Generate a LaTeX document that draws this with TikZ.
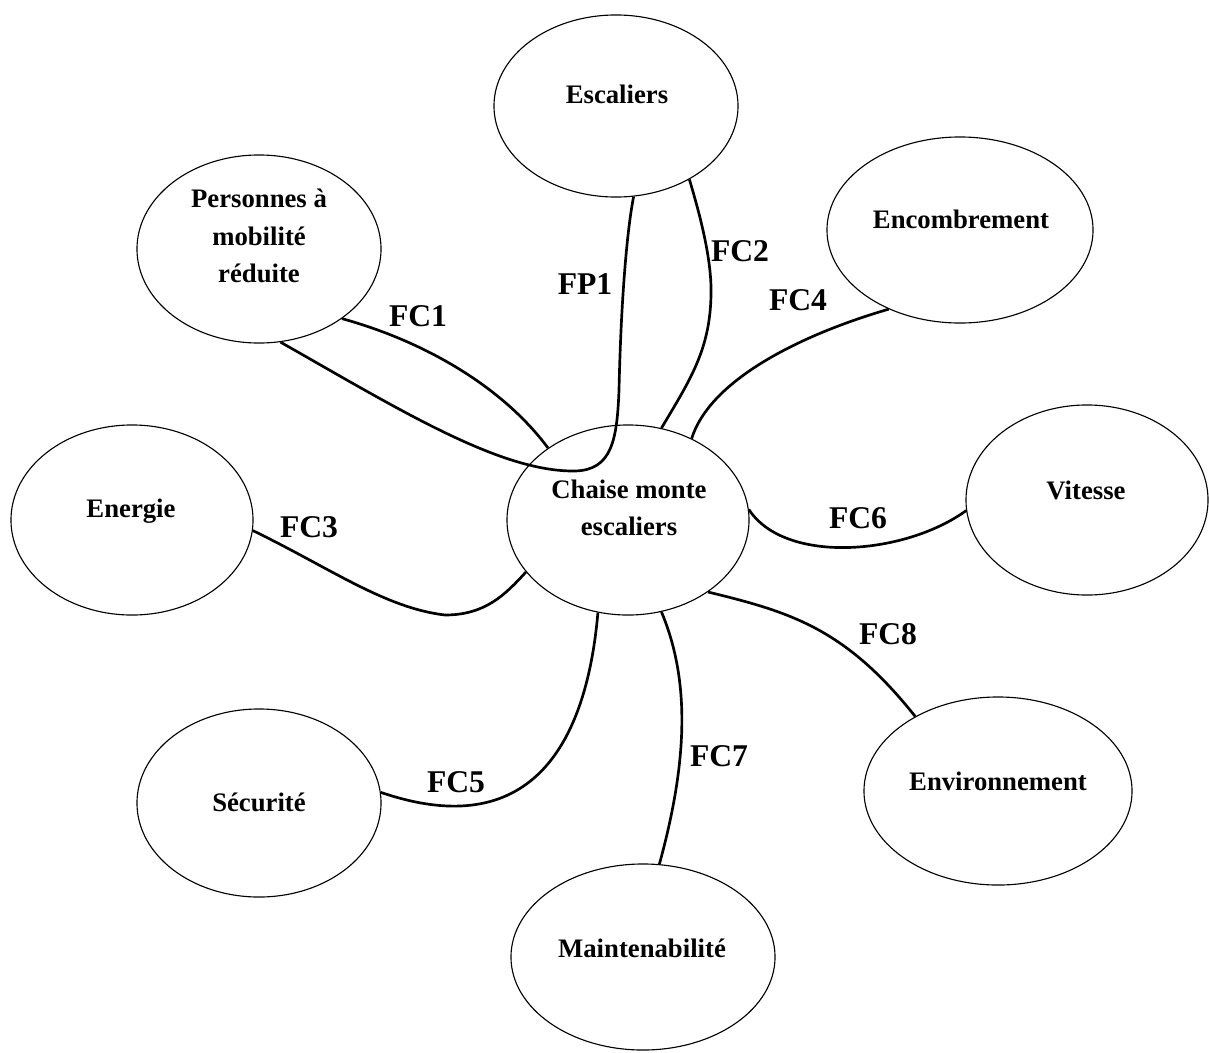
\documentclass[tikz,border=0pt]{standalone}
\usepackage{fontspec}
\setmainfont{Liberation Serif}
\usetikzlibrary{shapes.geometric}

\begin{document}
\begin{tikzpicture}[x=0.025cm,y=-0.025cm,
  bubble/.style={ellipse,draw,line width=0.8pt,inner sep=0pt},
  btext/.style={font=\fontsize{19}{26.5}\selectfont\bfseries,align=center,inner sep=0pt},
  link/.style={line width=1.9pt},
  tag/.style={font=\fontsize{22.5}{26}\selectfont\bfseries,inner sep=0pt}]

\useasboundingbox (0,0) rectangle (1209,1052);

% the bubbles
\node[bubble,minimum width=6.1cm,minimum height=4.55cm] (esc) at (616,106) {};
\node[bubble,minimum width=6.1cm,minimum height=4.7cm] (pers) at (259,249) {};
\node[bubble,minimum width=6.65cm,minimum height=4.65cm] (enc) at (960,230) {};
\node[bubble,minimum width=6.05cm,minimum height=4.75cm] (ene) at (132,520) {};
\node[bubble,minimum width=6.05cm,minimum height=4.75cm] (chaise) at (628,520) {};
\node[bubble,minimum width=6.05cm,minimum height=4.75cm] (vit) at (1087,500) {};
\node[bubble,minimum width=6.7cm,minimum height=4.7cm] (env) at (998,791) {};
\node[bubble,minimum width=6.1cm,minimum height=4.7cm] (sec) at (259,803) {};
\node[bubble,minimum width=6.6cm,minimum height=4.65cm] (main) at (643,957) {};

% bubble texts
\node[btext] (esc-t) at (617,94) {Escaliers};
\node[btext] (pers-t) at (259,236) {Personnes à\\mobilité\\réduite};
\node[btext] (enc-t) at (961,219) {Encombrement};
\node[btext] (ene-t) at (131,511) {Energie};
\node[btext] (chaise-t) at (629,508) {Chaise monte\\escaliers};
\node[btext] (vit-t) at (1086,490) {Vitesse};
\node[btext] (env-t) at (998,781) {Environnement};
\node[btext] (sec-t) at (259,802) {Sécurité};
\node[btext] (main-t) at (642,948) {Maintenabilité};

% functions
\draw[link] (pers.-77.5) .. controls (400,410) and (500,472) .. (575,471)
  .. controls (612,470) and (617,440) .. (619,390)
  .. controls (621,300) and (627,230) .. (esc.-79.4);
\draw[link] (pers.-40) .. controls (430,343) and (505,390) .. (chaise.138);
\draw[link] (esc.-45) .. controls (700,215) and (712,260) .. (711,295)
  .. controls (710,350) and (690,380) .. (chaise.70);
\draw[link] (enc.-132) .. controls (800,335) and (710,380) .. (chaise.52);
\draw[link] (ene.-5) .. controls (330,568) and (385,608) .. (445,615)
  .. controls (485,615) and (505,595) .. (chaise.207);
\draw[link] (chaise.5) .. controls (785,565) and (905,555) .. (vit.185);
\draw[link] (chaise.-42) .. controls (790,612) and (845,628) .. (env.138);
\draw[link] (sec.5) .. controls (520,840) and (585,760) .. (chaise.252);
\draw[link] (chaise.-70) .. controls (690,680) and (688,760) .. (main.80);

% function labels
\node[tag] (fp1) at (585,284) {FP1};
\node[tag] (fc1) at (418,316) {FC1};
\node[tag] (fc2) at (740,251) {FC2};
\node[tag] (fc4) at (798,300) {FC4};
\node[tag] (fc3) at (309,527) {FC3};
\node[tag] (fc6) at (858,518) {FC6};
\node[tag] (fc8) at (888,634) {FC8};
\node[tag] (fc5) at (456,782) {FC5};
\node[tag] (fc7) at (719,756) {FC7};

\end{tikzpicture}
\end{document}
